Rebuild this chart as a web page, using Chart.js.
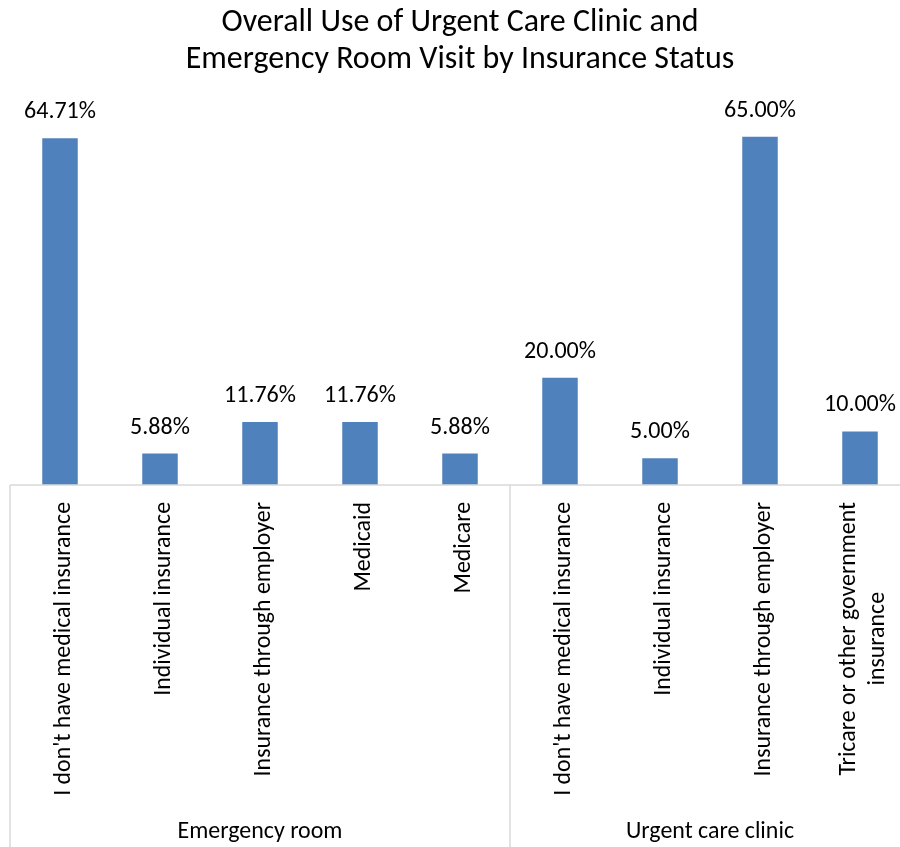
<!DOCTYPE html>
<html>
<head>
<meta charset="utf-8">
<script src="https://cdn.jsdelivr.net/npm/chart.js@4/dist/chart.umd.min.js"></script>
<style>
html,body{margin:0;padding:0;background:#fff;overflow:hidden;}
#wrap{width:920px;height:847px;}
</style>
</head>
<body>
<div id="wrap"><canvas id="c" width="920" height="847"></canvas></div>
<script>
const titleLines = ['Overall Use of Urgent Care Clinic and', 'Emergency Room Visit by Insurance Status'];
const groups = ['Emergency room', 'Urgent care clinic'];
const groupSizes = [5, 4];
const categories = [
  ["I don't have medical insurance"],
  ['Individual insurance'],
  ['Insurance through employer'],
  ['Medicaid'],
  ['Medicare'],
  ["I don't have medical insurance"],
  ['Individual insurance'],
  ['Insurance through employer'],
  ['Tricare or other government', 'insurance']
];
const values = [64.71, 5.88, 11.76, 11.76, 5.88, 20.00, 5.00, 65.00, 10.00];
const yMax = 70;

const FAMILY = 'Carlito, Calibri, Lato, sans-serif';
function fit(ctx, text, target) {
  ctx.font = '100px ' + FAMILY;
  return 100 * target / ctx.measureText(text).width;
}

const labelsPlugin = {
  id: 'labelsPlugin',
  afterDraw(chart) {
    const ctx = chart.ctx;
    const xs = chart.scales.x;
    const area = chart.chartArea;
    const H = chart.height;
    ctx.save();
    ctx.fillStyle = '#000';

    // title
    const tSize = fit(ctx, titleLines[1], 549);
    ctx.font = tSize + 'px ' + FAMILY;
    ctx.textAlign = 'center';
    ctx.textBaseline = 'alphabetic';
    const cx = (area.left + area.right) / 2;
    ctx.fillText(titleLines[0], cx, 31);
    ctx.fillText(titleLines[1], cx, 68);

    // value labels
    const vSize = fit(ctx, '64.71%', 72);
    ctx.font = vSize + 'px ' + FAMILY;
    const meta = chart.getDatasetMeta(0);
    meta.data.forEach((bar, i) => {
      ctx.fillText(values[i].toFixed(2) + '%', bar.x, bar.y - 20);
    });

    // axis lines
    ctx.strokeStyle = '#d9d9d9';
    ctx.lineWidth = 1.5;
    ctx.beginPath();
    ctx.moveTo(area.left, area.bottom);
    ctx.lineTo(area.right, area.bottom);
    let idx = 0;
    const bounds = [area.left];
    groupSizes.forEach((n) => {
      idx += n;
      if (idx < categories.length) {
        bounds.push((xs.getPixelForValue(idx - 1) + xs.getPixelForValue(idx)) / 2);
      }
    });
    bounds.push(area.right);
    bounds.forEach((bx) => {
      ctx.moveTo(bx, area.bottom);
      ctx.lineTo(bx, H);
    });
    ctx.stroke();

    // category labels (rotated)
    const cSize = fit(ctx, categories[0][0], 294);
    ctx.font = cSize + 'px ' + FAMILY;
    const lineH = 29;
    categories.forEach((lines, i) => {
      const x = xs.getPixelForValue(i);
      let maxW = 0;
      lines.forEach((l) => { maxW = Math.max(maxW, ctx.measureText(l).width); });
      const cy = area.bottom + 17 + maxW / 2;
      ctx.save();
      ctx.textAlign = 'center';
      ctx.textBaseline = 'alphabetic';
      lines.forEach((l, k) => {
        const bx = x + 9.5 - (lines.length - 1) * lineH / 2 + k * lineH;
        ctx.save();
        ctx.translate(bx, cy);
        ctx.rotate(-Math.PI / 2);
        ctx.fillText(l, 0, 0);
        ctx.restore();
      });
      ctx.restore();
    });

    // group labels
    const gSize = fit(ctx, groups[0], 165);
    ctx.font = gSize + 'px ' + FAMILY;
    ctx.textAlign = 'center';
    for (let g = 0; g < groups.length; g++) {
      ctx.fillText(groups[g], (bounds[g] + bounds[g + 1]) / 2, 838);
    }
    ctx.restore();
  }
};

new Chart(document.getElementById('c'), {
  type: 'bar',
  data: {
    labels: categories,
    datasets: [{
      data: values,
      backgroundColor: '#4f81bd',
      borderWidth: 0,
      barPercentage: 0.355,
      categoryPercentage: 1
    }]
  },
  options: {
    responsive: false,
    animation: false,
    layout: { padding: { left: 10, right: 10, top: 110, bottom: 362 } },
    plugins: { legend: { display: false }, tooltip: { enabled: false }, title: { display: false } },
    scales: {
      x: { display: false, offset: true },
      y: { display: false, min: 0, max: yMax }
    }
  },
  plugins: [labelsPlugin]
});
</script>
</body>
</html>
